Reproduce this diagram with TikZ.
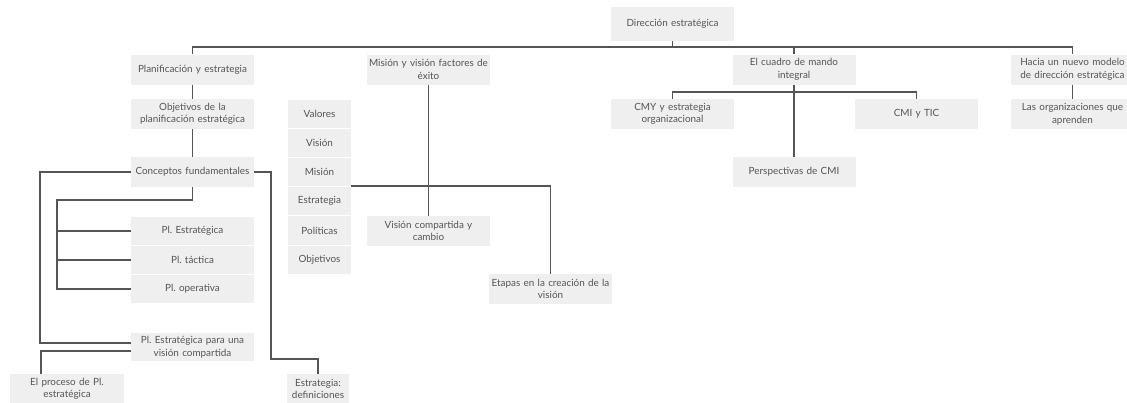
\documentclass[tikz,border=0pt]{standalone}
\usepackage{fontspec}
\setmainfont{Lato}
\frenchspacing
\definecolor{boxfill}{HTML}{EFEFEF}
\definecolor{txt}{HTML}{555555}
\definecolor{ln}{HTML}{555555}
\tikzset{
  box/.style={fill=boxfill, text=txt, inner sep=0pt, align=center,
    font=\fontsize{9.9}{12.5}\selectfont, minimum width=123pt, minimum height=30pt, text width=119pt},
  cbox/.style={box, minimum width=63pt, text width=62pt, minimum height=28.5pt},
  conn/.style={draw=ln, line width=1.4pt}
}
\begin{document}
\begin{tikzpicture}[x=1pt,y=-1pt]
\useasboundingbox (0,0) rectangle (1127,402);
% nodes
\node[box, minimum height=34pt] (dir) at (672.5,24) {Dirección estratégica};
\node[box] (plan) at (192.5,69.5) {Planificación y estrategia};
\node[box] (obj) at (192.5,114) {Objetivos de la\\planificación estratégica};
\node[box] (conc) at (192.5,172) {Conceptos fundamentales};
\node[box] (mv) at (428.5,69.5) {Misión y visión factores de\\éxito};
\node[cbox] (val) at (319.5,114) {Valores};
\node[cbox] (vis) at (319.5,143) {Visión};
\node[cbox] (mis) at (319.5,172) {Misión};
\node[cbox] (est) at (319.5,201) {Estrategia};
\node[cbox] (pol) at (319.5,230.5) {Políticas};
\node[cbox] (objs) at (319.5,260) {Objetivos};
\node[box] (visc) at (428.5,231) {Visión compartida y\\cambio};
\node[box] (etap) at (550.5,289) {Etapas en la creación de la\\visión};
\node[box, minimum height=28pt] (ple) at (192.5,231) {Pl. Estratégica};
\node[box, minimum height=28pt] (plt) at (192.5,260) {Pl. táctica};
\node[box, minimum height=28pt] (plo) at (192.5,289) {Pl. operativa};
\node[box, minimum height=28pt] (pvc) at (192.5,347) {Pl. Estratégica para una\\visión compartida};
\node[box, minimum width=114pt, text width=110pt] (proc) at (67,389) {El proceso de Pl.\\estratégica};
\node[box, minimum width=62pt, text width=62pt] (edef) at (318,389) {Estrategia:\\definiciones};
\node[box] (cmi) at (794,69.5) {El cuadro de mando\\integral};
\node[box] (cmy) at (672.5,114) {CMY y estrategia\\organizacional};
\node[box] (tic) at (916.5,114) {CMI y TIC};
\node[box] (persp) at (794,172) {Perspectivas de CMI};
\node[box] (hacia) at (1072.5,69.5) {Hacia un nuevo modelo\\de dirección estratégica};
\node[box] (las) at (1072.5,114) {Las organizaciones que\\aprenden};
% coordinates
\coordinate (topL) at (192.5,47);
\coordinate (topR) at (1072.5,47);
% connectors
\draw[conn] (dir.south) -- (672.5,47);
\draw[conn] (plan.north) -- (topL) -- (topR) -- (hacia.north);
\draw[conn] (cmi.north) -- (794,47);
\draw[conn] (plan.south) -- (obj.north);
\draw[conn] (obj.south) -- (conc.north);
\draw[conn] (conc.west) -- (40,172) -- (40,343) -- (131,343);
\draw[conn] (conc.east) -- (271,172) -- (271,359) -- (318,359) -- (edef.north);
\draw[conn] (conc.south) -- (192.5,200) -- (57,200) -- (57,289) -- (plo.west);
\draw[conn] (57,231) -- (ple.west);
\draw[conn] (57,260) -- (plt.west);
\draw[conn] (131,351) -- (41,351) -- (41,374);
\draw[conn] (mis.east |- 0,186) -- (550.5,186) -- (etap.north);
\draw[conn] (mv.south) -- (visc.north);
\draw[conn] (cmi.south) -- (persp.north);
\draw[conn] (cmy.north) -- (672.5,92) -- (916.5,92) -- (tic.north);
\draw[conn] (hacia.south) -- (las.north);
\end{tikzpicture}
\end{document}
